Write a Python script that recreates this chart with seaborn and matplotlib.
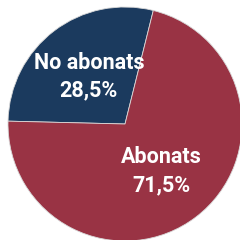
import matplotlib
matplotlib.use("Agg")
import matplotlib.pyplot as plt
import seaborn as sns

# Subscription share data
labels = ["No abonats", "Abonats"]
shares = [28.5, 71.5]
colors = ["#1b3a5e", "#993344"]

sns.set_style("white")
plt.rcParams['font.family'] = ['Roboto', 'DejaVu Sans']

fig = plt.figure(figsize=(2.4, 2.4), dpi=100)
ax = fig.add_axes([0, 0, 1, 1])

wedges, texts, autotexts = ax.pie(
    shares,
    colors=sns.color_palette(colors),
    startangle=76,
    counterclock=True,
    radius=1.0,
    autopct=lambda p: f"{p:.1f}%".replace(".", ","),
    pctdistance=0.51,
    wedgeprops=dict(edgecolor="#d9d9d9", linewidth=0.6),
    textprops=dict(color="white", fontsize=15.5, fontweight="bold"),
)
for t, lab in zip(autotexts, labels):
    t.set_text(f"{lab}\n{t.get_text()}")
    t.set_linespacing(1.35)

ax.set_xlim(-125 / 117, 115 / 117)
ax.set_ylim(-116 / 117, 124 / 117)
ax.set_aspect("equal")
ax.axis("off")

fig.savefig("out.png", dpi=100, facecolor="white")
plt.close(fig)
